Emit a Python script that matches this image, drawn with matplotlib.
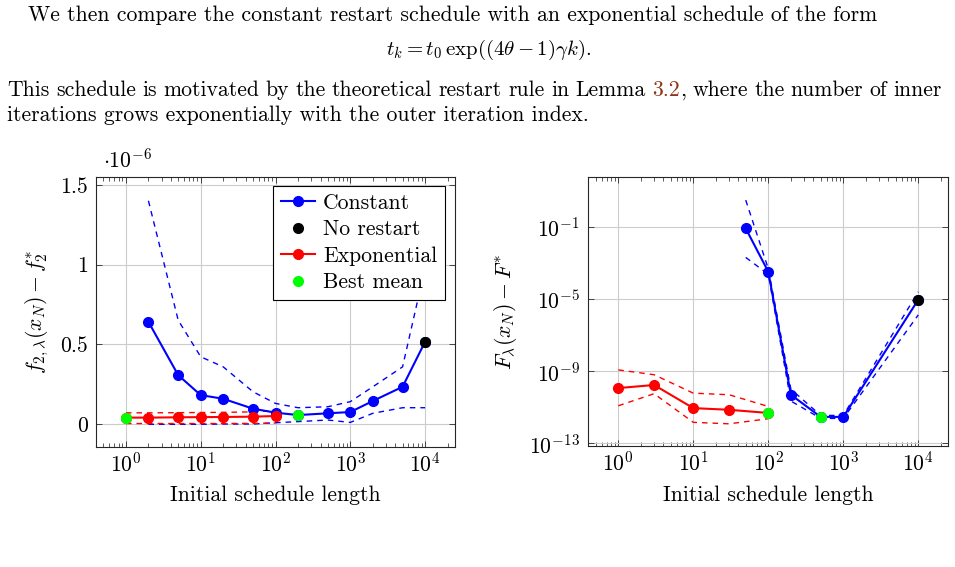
import matplotlib
matplotlib.use('Agg')
import matplotlib.pyplot as plt
from matplotlib.lines import Line2D
from matplotlib.ticker import (FixedLocator, FixedFormatter, LogLocator,
                               NullLocator, NullFormatter, LogFormatterMathtext)

plt.rcParams['font.family'] = 'serif'
plt.rcParams['font.serif'] = ['cmr10']
plt.rcParams['mathtext.fontset'] = 'cm'
plt.rcParams['axes.formatter.use_mathtext'] = True
plt.rcParams['lines.scale_dashes'] = False

FS = 15.6
MS = 7
BLUE, RED, GREEN = '#0000ff', '#ff0000', '#00ff00'
LINK = '#8f3519'

# ---- left panel: f_{2,lambda}(x_N) - f_2^*  (units of 1e-6) ----
c_x = [2, 5, 10, 20, 50, 100, 200, 500, 1000, 2000, 5000, 10000]
c_mean = [0.642, 0.308, 0.183, 0.160, 0.098, 0.073, 0.058, 0.069, 0.077, 0.146, 0.235, 0.517]
c_hi = [1.40, 0.652, 0.423, 0.36, 0.204, 0.131, 0.104, 0.110, 0.142, 0.235, 0.36, 0.98]
c_lo = [0.0, 0.0, 0.0, 0.002, 0.002, 0.010, 0.017, 0.027, 0.012, 0.069, 0.104, 0.104]
e_x = [1, 2, 5, 10, 20, 50, 100]
e_mean = [0.042, 0.042, 0.044, 0.045, 0.046, 0.048, 0.052]
e_hi = [0.072, 0.072, 0.073, 0.074, 0.075, 0.078, 0.085]
e_lo = [0.005, 0.005, 0.005, 0.005, 0.005, 0.006, 0.008]
nr_x, nr_y = [10000], [0.517]
best_x, best_y = [1, 200], [0.042, 0.058]

# ---- right panel: F_lambda(x_N) - F^* ----
rc_x = [50, 100, 200, 500, 1000, 10000]
rc_mean = [8.1e-2, 3.2e-4, 4.9e-11, 2.9e-12, 2.9e-12, 9.1e-6]
rc_hi = [3.0, 4.7e-4, 1.0e-10, 3.5e-12, 3.5e-12, 2.5e-5]
rc_lo = [2.0e-3, 2.3e-4, 2.2e-11, 2.4e-12, 2.4e-12, 1.3e-6]
re_x = [1, 3, 10, 30, 100]
re_mean = [1.15e-10, 1.7e-10, 8.9e-12, 7.2e-12, 4.8e-12]
re_hi = [1.17e-9, 6.3e-10, 6.0e-11, 4.9e-11, 1.1e-11]
re_lo = [1.2e-11, 5.6e-11, 1.45e-12, 1.2e-12, 2.3e-12]
rnr_x, rnr_y = [10000], [9.1e-6]
rbest_x, rbest_y = [100, 500], [4.8e-12, 2.9e-12]

fig = plt.figure(figsize=(9.55, 5.67), dpi=100)
r = fig.canvas.get_renderer()


def width(s, size):
    t = fig.text(0, 0, s, fontsize=size)
    w = t.get_window_extent(r).width
    t.remove()
    return w


def px(x):
    return x / 955


def py(y):
    return 1 - y / 567


# ---- paragraph text above the plots ----
line1 = 'We then compare the constant restart schedule with an exponential schedule of the form'
body = FS * 850 / width(line1, FS)
fig.text(px(28), py(21), line1, fontsize=body, va='baseline')
eq = r'$t_k = t_0\,\exp((4\theta - 1)\gamma k).$'
eq_size = body * min(1.0, 205 / width(eq, body))
fig.text(px(489), py(55), eq, fontsize=eq_size, ha='center', va='baseline')

words = [[(w, 'k')] for w in 'This schedule is motivated by the theoretical restart rule in Lemma'.split()]
words += [[('3.2', LINK), (',', 'k')]]
words += [[(w, 'k')] for w in 'where the number of inner'.split()]
wlen = [sum(width(s, body) for s, c in w) for w in words]
gap = (935 - sum(wlen)) / (len(words) - 1)
x = 7
for w, L in zip(words, wlen):
    xx = x
    for s, c in w:
        fig.text(px(xx), py(96), s, fontsize=body, va='baseline', color=c)
        xx += width(s, body)
    x += L + gap
fig.text(px(7), py(121), 'iterations grows exponentially with the outer iteration index.',
         fontsize=body, va='baseline')

# ---- axes ----
ax1 = fig.add_axes([96 / 955, 1 - 447 / 567, 359 / 955, 270 / 567])
ax2 = fig.add_axes([588.3 / 955, 1 - 446 / 567, 360 / 955, 268.7 / 567])

for ax in (ax1, ax2):
    ax.set_xscale('log')
    ax.set_xlim(10 ** -0.4, 10 ** 4.4)
    ax.xaxis.set_major_locator(LogLocator(base=10, numticks=10))
    ax.xaxis.set_minor_locator(LogLocator(base=10, subs=range(2, 10), numticks=20))
    ax.xaxis.set_minor_formatter(NullFormatter())
    ax.xaxis.set_major_formatter(LogFormatterMathtext())
    ax.tick_params(which='both', direction='in', top=True, right=True,
                   color='0.25', labelsize=FS)
    ax.tick_params(which='major', length=4.3, width=0.7)
    ax.tick_params(which='minor', length=2.9, width=0.6)
    ax.tick_params(axis='y', pad=6)
    ax.grid(True, which='major', color='#cccccc', lw=0.8)
    ax.set_axisbelow(True)
    for sp in ax.spines.values():
        sp.set_linewidth(0.8)
        sp.set_color('0.15')

# left panel
ax1.set_ylim(-0.142, 1.549)
ax1.yaxis.set_major_locator(FixedLocator([0, 0.5, 1, 1.5]))
ax1.yaxis.set_major_formatter(FixedFormatter(['0', '0.5', '1', '1.5']))
ax1.yaxis.set_minor_locator(NullLocator())

dash = dict(lw=1.0, dashes=(4.0, 3.6), zorder=2)
ax1.plot(c_x, c_hi, color=BLUE, **dash)
ax1.plot(c_x, c_lo, color=BLUE, **dash)
ax1.plot(e_x, e_hi, color=RED, **dash)
ax1.plot(e_x, e_lo, color=RED, **dash)
ax1.plot(c_x, c_mean, color=BLUE, lw=1.5, marker='o', ms=MS, zorder=3)
ax1.plot(e_x, e_mean, color=RED, lw=1.5, marker='o', ms=MS, zorder=3)
ax1.plot(nr_x, nr_y, ls='none', marker='o', ms=MS, color='black', zorder=4)
ax1.plot(best_x, best_y, ls='none', marker='o', ms=MS, color=GREEN, zorder=4)

fig.text(px(103), py(167), r'$\cdot 10^{-6}$', fontsize=FS, va='baseline')
ax1.set_ylabel(r'$f_{2,\lambda}(x_N) - f_2^{*}$', fontsize=FS, va='center')
ax1.yaxis.set_label_coords(-0.164, 0.5)
ax1.set_xlabel('Initial schedule length', fontsize=FS, va='center')
ax1.xaxis.set_label_coords(0.5, -0.178)

handles = [
    Line2D([], [], color=BLUE, lw=1.5, marker='o', ms=MS),
    Line2D([], [], ls='none', color='black', marker='o', ms=MS),
    Line2D([], [], color=RED, lw=1.5, marker='o', ms=MS),
    Line2D([], [], ls='none', color=GREEN, marker='o', ms=MS),
]
leg = ax1.legend(handles, ['Constant', 'No restart', 'Exponential', 'Best mean'],
                 loc='upper right', bbox_to_anchor=(0.971, 0.968), borderaxespad=0,
                 fontsize=FS, fancybox=False, framealpha=1, edgecolor='black',
                 handlelength=1.6, handletextpad=0.35, labelspacing=0.32,
                 borderpad=0.35)
leg.get_frame().set_linewidth(0.8)
leg.set_zorder(10)

# right panel
ax2.set_yscale('log')
ax2.set_ylim(10 ** -13.15, 10 ** 1.74)
ax2.yaxis.set_major_locator(FixedLocator([1e-13, 1e-9, 1e-5, 1e-1]))
ax2.yaxis.set_major_formatter(LogFormatterMathtext())
ax2.yaxis.set_minor_locator(NullLocator())

ax2.plot(rc_x, rc_hi, color=BLUE, **dash)
ax2.plot(rc_x, rc_lo, color=BLUE, **dash)
ax2.plot(re_x, re_hi, color=RED, **dash)
ax2.plot(re_x, re_lo, color=RED, **dash)
ax2.plot(rc_x, rc_mean, color=BLUE, lw=1.5, marker='o', ms=MS, zorder=3)
ax2.plot(re_x, re_mean, color=RED, lw=1.5, marker='o', ms=MS, zorder=3)
ax2.plot(rnr_x, rnr_y, ls='none', marker='o', ms=MS, color='black', zorder=4)
ax2.plot(rbest_x, rbest_y, ls='none', marker='o', ms=MS, color=GREEN, zorder=4)

ax2.set_ylabel(r'$F_{\lambda}(x_N) - F^{*}$', fontsize=FS, va='center')
ax2.yaxis.set_label_coords(-0.231, 0.5)
ax2.set_xlabel('Initial schedule length', fontsize=FS, va='center')
ax2.xaxis.set_label_coords(0.5, -0.182)

fig.savefig('out.png', dpi=100)
